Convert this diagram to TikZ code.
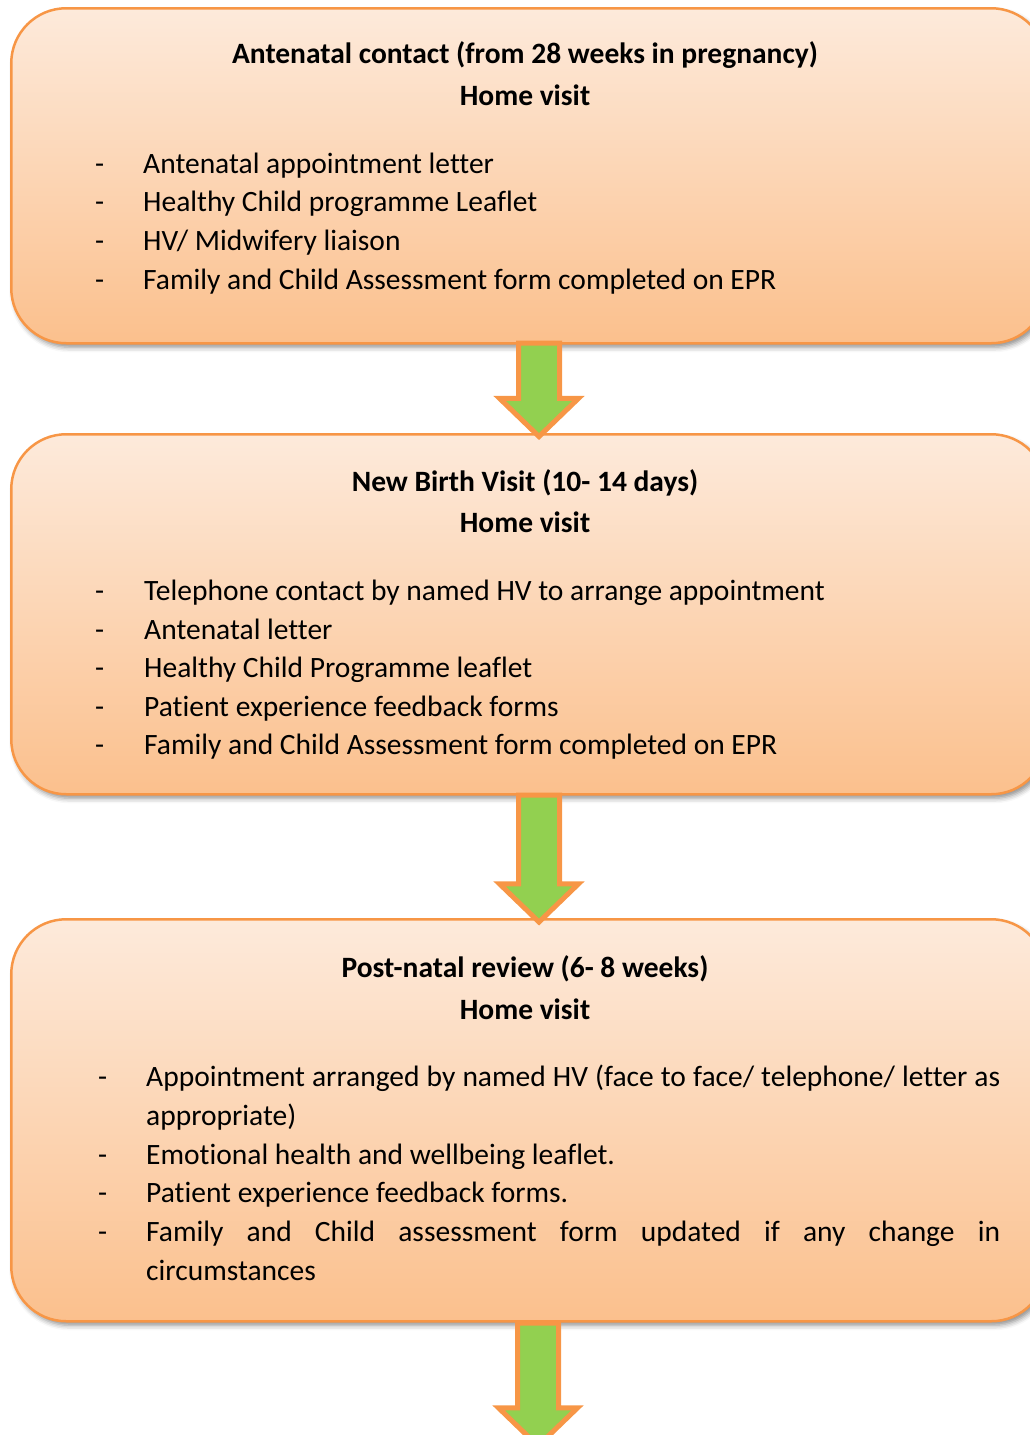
\documentclass[tikz,border=0pt]{standalone}
\usepackage{fontspec}
\setmainfont{Carlito}[Ligatures=NoCommon]
\usetikzlibrary{shadows.blur,shapes.arrows}

\definecolor{boxtop}{HTML}{FDEADB}
\definecolor{boxbot}{HTML}{FBC08D}
\definecolor{boxline}{HTML}{F79646}
\definecolor{arrowfill}{HTML}{92D050}

\tikzset{
  stagebox/.style={draw=boxline, line width=2.5pt, rounded corners=55pt,
    top color=boxtop, bottom color=boxbot, anchor=north west,
    minimum width=1035pt, inner sep=0pt,
    blur shadow={shadow xshift=3pt, shadow yshift=-4pt,
      shadow opacity=45, shadow blur radius=5pt}},
  flowarrow/.style={single arrow, draw=boxline, fill=arrowfill,
    line width=5pt, rotate=-90, anchor=tail, inner sep=18pt,
    single arrow head extend=19pt, single arrow tip angle=92,
    shape border uses incircle=false},
  ttl/.style={anchor=base, inner sep=0pt, font=\fontsize{29.5}{35}\selectfont\bfseries},
  txt/.style={anchor=base west, inner sep=0pt, font=\fontsize{29.5}{35}\selectfont},
  bulletdash/.style={anchor=base west, inner sep=0pt, font=\fontsize{29.5}{35}\selectfont},
}

\begin{document}
\begin{tikzpicture}[x=1pt, y=-1pt]
\useasboundingbox (0,0) rectangle (1030,1435);
\clip (0,0) rectangle (1030,1435);

% the three stages
\node[stagebox, minimum height=335pt] (b1) at (10,7) {};
\node[stagebox, minimum height=360pt] (b2) at (10,433) {};
\node[stagebox, minimum height=402pt] (b3) at (10,918) {};

% block arrows between stages
\node[flowarrow, minimum height=93.5pt] (a1) at (539,340.5) {};
\node[flowarrow, minimum height=127pt] (a2) at (539,792.5) {};
\node[flowarrow, minimum height=123pt] (a3) at (538,1320.5) {};

% stage 1
\node[ttl] (h1a) at (525,63) {Antenatal contact (from 28 weeks in pregnancy)};
\node[ttl] (h1b) at (525,105) {Home visit};
\node[bulletdash] (d1a) at (95,173) {-};
\node[bulletdash] (d1b) at (95,211) {-};
\node[bulletdash] (d1c) at (95,250) {-};
\node[bulletdash] (d1d) at (95,289) {-};
\node[txt] (l1a) at (143,173) {Antenatal appointment letter};
\node[txt] (l1b) at (143,211) {Healthy Child programme Leaflet};
\node[txt] (l1c) at (143,250) {HV/ Midwifery liaison};
\node[txt] (l1d) at (143,289) {Family and Child Assessment form completed on EPR};

% stage 2
\node[ttl] (h2a) at (525,491) {New Birth Visit (10- 14 days)};
\node[ttl] (h2b) at (525,532) {Home visit};
\node[bulletdash] (d2a) at (95,600) {-};
\node[bulletdash] (d2b) at (95,639) {-};
\node[bulletdash] (d2c) at (95,677) {-};
\node[bulletdash] (d2d) at (95,716) {-};
\node[bulletdash] (d2e) at (95,754) {-};
\node[txt] (l2a) at (144,600) {Telephone contact by named HV to arrange appointment};
\node[txt] (l2b) at (144,639) {Antenatal letter};
\node[txt] (l2c) at (144,677) {Healthy Child Programme leaflet};
\node[txt] (l2d) at (144,716) {Patient experience feedback forms};
\node[txt] (l2e) at (144,754) {Family and Child Assessment form completed on EPR};

% stage 3
\node[ttl] (h3a) at (525,977) {Post-natal review (6- 8 weeks)};
\node[ttl] (h3b) at (525,1019) {Home visit};
\node[bulletdash] (d3a) at (98,1086) {-};
\node[bulletdash] (d3b) at (98,1164) {-};
\node[bulletdash] (d3c) at (98,1202) {-};
\node[bulletdash] (d3d) at (98,1241) {-};
\node[txt] (l3a) at (146,1086) {\hbox to 854pt{Appointment arranged by named HV (face to face/ telephone/ letter as}};
\node[txt] (l3b) at (146,1125) {appropriate)};
\node[txt] (l3c) at (146,1164) {Emotional health and wellbeing leaflet.};
\node[txt] (l3d) at (146,1202) {Patient experience feedback forms.};
\node[txt] (l3e) at (146,1241) {\hbox to 854pt{Family\hfill and\hfill Child\hfill assessment\hfill form\hfill updated\hfill if\hfill any\hfill change\hfill in}};
\node[txt] (l3f) at (146,1280) {circumstances};
\end{tikzpicture}
\end{document}
